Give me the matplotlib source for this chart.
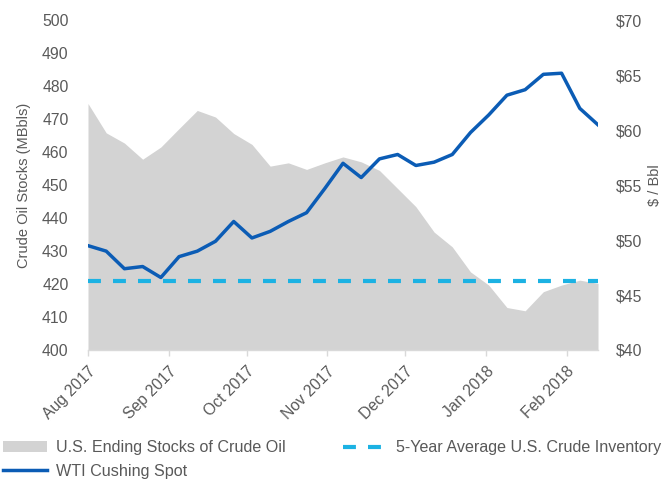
import matplotlib
matplotlib.use("Agg")
import matplotlib.pyplot as plt
import pandas as pd
import numpy as np
from matplotlib.lines import Line2D
from matplotlib.patches import Patch

plt.rcParams['font.family'] = ['Liberation Sans', 'DejaVu Sans']

# ---- data ----
dates = pd.date_range('2017-08-01', periods=29, freq='7D')
stocks = [474.8, 465.9, 462.8, 457.9, 461.6, 467.2, 472.7, 470.7, 465.7, 462.4,
          455.8, 456.8, 454.8, 456.8, 458.6, 457.1, 454.5, 449.0, 443.5, 435.8,
          431.3, 423.7, 419.7, 412.9, 411.9, 417.7, 419.7, 421.2, 420.2]
wti = [49.5, 49.0, 47.4, 47.6, 46.6, 48.5, 49.0, 49.9, 51.7, 50.2,
       50.8, 51.7, 52.5, 54.7, 57.0, 55.7, 57.4, 57.8, 56.8, 57.1,
       57.8, 59.8, 61.4, 63.2, 63.7, 65.1, 65.2, 62.0, 60.5]
avg5 = 421.0
tick_dates = pd.to_datetime(['2017-08-01', '2017-09-01', '2017-10-01', '2017-11-01',
                             '2017-12-01', '2018-01-01', '2018-02-01'])
tick_labels = ['Aug 2017', 'Sep 2017', 'Oct 2017', 'Nov 2017', 'Dec 2017', 'Jan 2018', 'Feb 2018']
left_ticks = list(range(400, 501, 10))
right_ticks = list(range(40, 71, 5))
right_labels = ['$%d' % v for v in right_ticks]

GRAY = '#d3d3d3'
BLUE = '#0b5cb5'
CYAN = '#1cb2e3'
TXT = '#595959'
FS = 11.3

fig = plt.figure(figsize=(6.64, 4.8), dpi=100)
ax = fig.add_axes([88/664, 1 - 350/480, 510/664, (350 - 20.5)/480])
ax2 = ax.twinx()

ax.fill_between(dates, stocks, 400, color=GRAY, linewidth=0, zorder=1)
ax.plot([dates[0], dates[-1]], [avg5, avg5], color=CYAN, lw=3.0,
        dashes=(3.1, 2.9), zorder=2)
ax2.plot(dates, wti, color=BLUE, lw=2.5, zorder=3)

ax.set_xlim(dates[0], dates[-1])
ax.set_ylim(400, 500)
ax2.set_ylim(40, 70)
ax.set_yticks(left_ticks)
ax2.set_yticks(right_ticks)
ax2.set_yticklabels(right_labels)
ax.set_xticks(tick_dates)
ax.set_xticklabels(tick_labels, rotation=45, ha='right', rotation_mode='anchor')

for a in (ax, ax2):
    for s in a.spines.values():
        s.set_visible(False)
ax.spines['bottom'].set_visible(True)
ax.spines['bottom'].set_color('#d9d9d9')
ax.spines['bottom'].set_linewidth(1.0)

ax.tick_params(axis='y', length=0, pad=14, labelsize=FS, labelcolor=TXT)
ax2.tick_params(axis='y', length=0, pad=13, labelsize=FS, labelcolor=TXT)
ax.tick_params(axis='x', length=4, color='#d9d9d9', width=1.0, pad=6,
               labelsize=FS, labelcolor=TXT)

ax.set_ylabel('Crude Oil Stocks (MBbls)', fontsize=10.5, color=TXT, labelpad=8)
ax2.set_ylabel('$ / Bbl', fontsize=10.5, color=TXT, labelpad=4)

handles = [Patch(facecolor=GRAY, edgecolor='none'),
           Line2D([], [], color=BLUE, lw=2.5),
           Line2D([], [], color=CYAN, lw=3.0, dashes=(3.1, 2.9))]
labels = ['U.S. Ending Stocks of Crude Oil', 'WTI Cushing Spot',
          '5-Year Average U.S. Crude Inventory']
leg = fig.legend(handles, labels, ncol=2, loc='upper left',
                 bbox_to_anchor=(0.0, 1 - 437/480), frameon=False,
                 fontsize=11.6, handlelength=2.7, handletextpad=0.55,
                 columnspacing=3.6, labelspacing=0.52, borderaxespad=0,
                 borderpad=0.2)
for t in leg.get_texts():
    t.set_color(TXT)

fig.savefig('out.png', dpi=100)
